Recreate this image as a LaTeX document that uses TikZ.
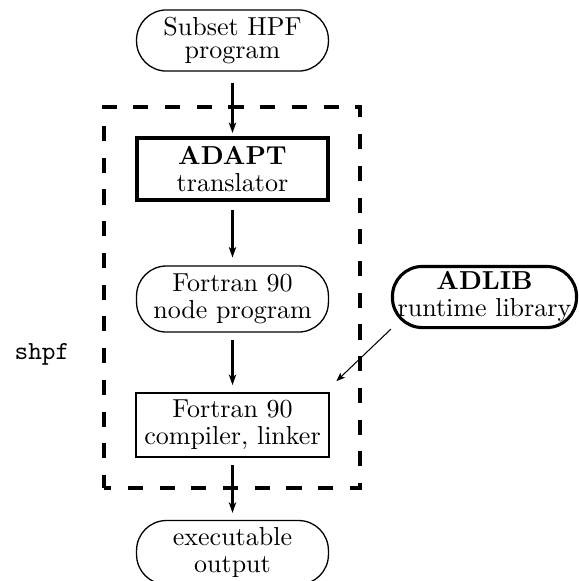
\documentclass[tikz,border=0pt]{standalone}
\usetikzlibrary{arrows.meta}
\begin{document}
\begin{tikzpicture}[x=0.3846pt,y=-0.3846pt,
  txt/.style={align=center,inner sep=0pt,font=\fontsize{10}{10.4}\selectfont},
  stadium/.style={txt,draw,line width=0.5pt,rounded corners=11.5pt,minimum width=73.8pt,minimum height=24.4pt},
  boxthick/.style={txt,draw,line width=1.5pt,minimum width=73.5pt,minimum height=23.8pt},
  boxthin/.style={txt,draw,line width=0.9pt,minimum width=74pt,minimum height=24.4pt},
  flow/.style={line width=1pt,-{Stealth[length=4pt,width=2.8pt,inset=1pt]}},
  feed/.style={line width=0.4pt,-{Stealth[length=3.4pt,width=2.6pt,inset=0.8pt]}},
  region/.style={draw,line width=1.5pt,dash pattern=on 5.8pt off 6.4pt,dash phase=3pt,minimum width=98.5pt,minimum height=146.5pt,inner sep=0pt}]
\useasboundingbox (0,0) rectangle (579,581);
\node[region] (shpfbox) at (232,297.5) {};
\node[stadium,minimum height=23.5pt,font=\fontsize{10}{9}\selectfont] (hpf) at (232.5,40.5) {Subset HPF\\program};
\node[boxthick] (adapt) at (232.5,169) {\textbf{ADAPT}\\translator};
\node[stadium,minimum height=25.4pt] (nodeprog) at (232.5,299) {Fortran 90\\node program};
\node[boxthin] (comp) at (232.5,425) {Fortran 90\\compiler, linker};
\node[stadium,minimum height=24.6pt] (exec) at (232.5,552.5) {executable\\output};
\node[stadium,line width=1.2pt,minimum width=70.8pt,minimum height=23.5pt] (adlib) at (484.5,297) {\textbf{ADLIB}\\runtime library};
\node[inner sep=0pt,font=\fontsize{10}{12}\ttfamily] (shpf) at (42,354) {shpf};
\draw[flow,shorten <=4.2pt,shorten >=1.2pt] (hpf.south) -- (adapt.north);
\draw[flow,shorten <=3pt,shorten >=3pt] (adapt.south) -- (nodeprog.north);
\draw[flow,shorten <=3pt,shorten >=2.7pt] (nodeprog.south) -- (comp.north);
\draw[flow,shorten <=2.7pt,shorten >=2.7pt] (comp.south) -- (exec.north);
\draw[feed] (adlib.south west) -- ([xshift=2.5pt,yshift=4.2pt]comp.north east);
\end{tikzpicture}
\end{document}
